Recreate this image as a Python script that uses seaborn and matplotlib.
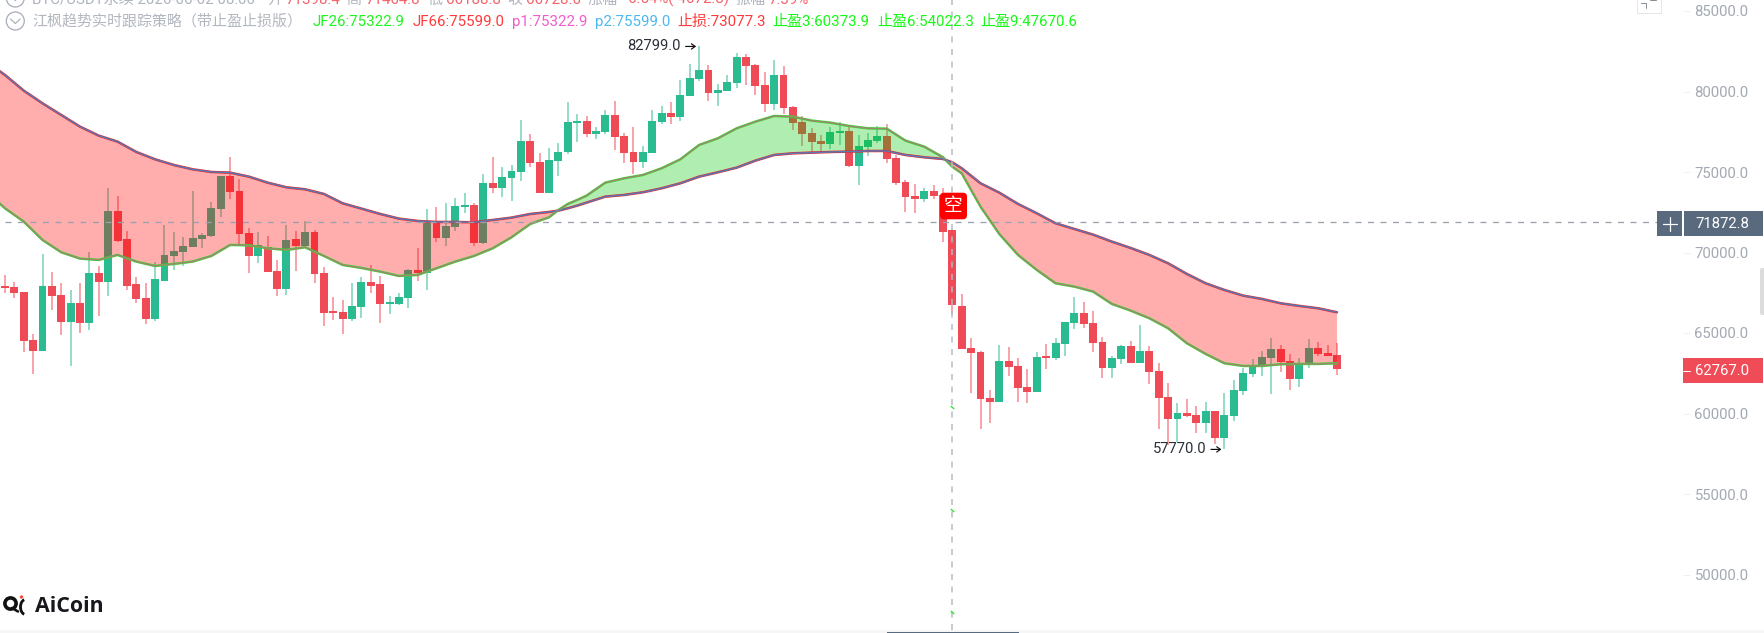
import matplotlib
matplotlib.use("Agg")
import matplotlib.pyplot as plt
import numpy as np
import pandas as pd
import seaborn as sns
from matplotlib.patches import Circle, FancyBboxPatch, Rectangle, Arc

# Daily candles, oldest first
opens = [67922, 67860, 67550, 64590, 63907, 67922, 67384, 65708, 66846, 65646, 68709, 68192, 72580,
         70821, 68026, 67156, 65852, 68254, 69806, 70055, 70365, 70841, 71048, 72704, 74753, 73822,
         71193, 69806, 70324, 68854, 67736, 70821, 70406, 71255, 68709, 66370, 66287, 65852, 66639,
         68150, 68026, 66805, 66784, 67198, 68916, 68750, 71814, 70924, 71607, 72849, 72973, 70613,
         74298, 74029, 74650, 75023, 76927, 75602, 73718, 75706, 76223, 78045, 78148, 77362, 77486,
         78562, 77237, 76223, 75623, 76182, 78107, 78645, 78417, 79742, 80756, 81357, 79928, 80053,
         80529, 82143, 81667, 80425, 79204, 81046, 79018, 78086, 77403, 76927, 76741, 77445, 77548,
         75395, 76575, 76927, 77237, 75850, 74381, 73491, 73304, 73801, 73574, 71398.4, 66680, 64052,
         63824, 60967, 60719, 63265, 62954, 61650, 61360, 63575, 63451, 64300, 65625, 66246, 65604,
         64445, 62851, 63368, 64196, 63161, 63886, 62644, 61029, 59642, 60036, 59932, 59435, 60160,
         58504, 59870, 61423, 62458, 62954, 63472, 63989, 63265, 62147, 63120, 64072, 63762, 63658]
closes = [67819, 67508, 64528, 63907, 67922, 67322, 65708, 66846, 65646, 68709, 68192, 72580, 70738,
          67943, 67115, 65852, 68336, 69848, 70096, 70406, 70883, 71110, 72745, 74753, 73781, 71152,
          69806, 70469, 68813, 67736, 70779, 70406, 71255, 68668, 66266, 66266, 65852, 66680, 68150,
          67943, 66805, 66908, 67219, 68916, 68709, 71855, 70924, 71648, 72890, 72973, 70613, 74319,
          74029, 74671, 75043, 76927, 75581, 73718, 75747, 76223, 78086, 78148, 77362, 77548, 78562,
          77196, 76182, 75623, 76223, 78148, 78645, 78438, 79804, 80819, 81357, 79928, 80115, 80591,
          82143, 81605, 80363, 79225, 81046, 78997, 78065, 77362, 76865, 76761, 77465, 77548, 75395,
          76616, 76989, 77237, 75788, 74319, 73470, 73325, 73822, 73532, 71297, 66728.6, 63989, 63762,
          60884, 60719, 63265, 62913, 61588, 61360, 63513, 63451, 64383, 65687, 66246, 65542, 64403,
          62851, 63430, 64196, 63161, 63886, 62603, 60988, 59642, 60036, 59870, 59435, 60160, 58504,
          59932, 61485, 62499, 63016, 63513, 63989, 63203, 62126, 63120, 64072, 63700, 63596, 62767]
highs = [68605, 68192, 67570, 64921, 69910, 68771, 68129, 67674, 68088, 70013, 69164, 73988, 73511,
         71338, 68461, 68088, 69434, 71710, 71255, 70945, 73822, 71193, 73160, 74774, 75913, 74567,
         71503, 71255, 71027, 69537, 71710, 71338, 71959, 71400, 69082, 67260, 67053, 68088, 68502,
         69206, 68543, 67302, 67467, 68957, 70261, 72683, 72807, 73056, 73366, 73718, 73056, 74857,
         75913, 75333, 75436, 78231, 77341, 76161, 76472, 76823, 79369, 78583, 78500, 77796, 78852,
         79390, 77403, 77817, 76616, 78831, 79121, 79369, 80715, 81709, 82799, 81646, 80467, 81005,
         82392, 82309, 81688, 81233, 81957, 81584, 79100, 78500, 77713, 77320, 77796, 78107, 77776,
         77299, 77445, 77838, 78003, 76058, 74505, 74257, 74029, 74174, 73988, 71464.8, 67426, 64672,
         63907, 61464, 64238, 64114, 63430, 62747, 63824, 64300, 64672, 65708, 67219, 66908, 66349,
         64735, 63575, 64279, 64486, 65521, 64176, 63120, 61878, 60677, 60884, 60450, 60698, 60160,
         61257, 62106, 62810, 63368, 63907, 64672, 64238, 63679, 63430, 64610, 64424, 64259, 64362]
lows = [67467, 67156, 63844, 62437, 63866, 66432, 64859, 62954, 64983, 65190, 66080, 67322, 70634,
        67674, 66846, 65542, 65770, 68254, 68916, 69185, 70324, 70261, 70986, 72228, 73304, 70469,
        68709, 69330, 68813, 67302, 67384, 68854, 70365, 68088, 65459, 65811, 64921, 65770, 65914,
        67508, 65646, 66184, 66722, 66536, 68233, 67674, 70634, 70406, 71359, 72435, 70427, 70510,
        73718, 73429, 73201, 74464, 75333, 73718, 73677, 74774, 76099, 76886, 77196, 77051, 77341,
        76389, 75581, 74878, 75230, 76182, 77962, 78003, 78148, 79742, 80632, 79411, 79100, 80053,
        80197, 80384, 79784, 78728, 78831, 78604, 77610, 76637, 76265, 76265, 76430, 76679, 75292,
        74174, 76016, 76823, 75581, 74195, 72518, 72476, 73139, 73325, 70634, 66188.8, 63989, 61298,
        59042, 59394, 60719, 62333, 60698, 60636, 61360, 62768, 63348, 63596, 65273, 65294, 63845,
        62189, 62230, 63099, 63161, 63161, 61836, 59042, 58049, 58235, 59767, 58814, 58814, 58131,
        57770, 59539, 61154, 62251, 62354, 61236, 62603, 61485, 61630, 62851, 63575, 63575, 62416]

# Trend averages, sampled at these candle positions
ma_index = [-1, 0, 2, 4, 6, 8, 10, 12, 14, 16, 18, 20, 22, 24, 26, 28, 30, 32, 34, 36, 38, 40, 42,
            44, 46, 48, 50, 52, 54, 56, 58, 59, 60, 61, 62, 64, 66, 68, 70, 72, 74, 76, 78, 80, 82,
            84, 86, 88, 90, 92, 94, 96, 98, 100, 101, 102, 104, 106, 108, 110, 112, 114, 116, 118,
            120, 122, 124, 126, 128, 130, 132, 134, 136, 138, 140, 142]
jf66 = [81440, 81025, 80053, 79266, 78541, 77817, 77258, 76885, 76244, 75788, 75436, 75167, 75002,
        74960, 74712, 74339, 74050, 73925, 73636, 73056, 72725, 72394, 72104, 71959, 71897, 71897,
        71876, 72021, 72166, 72394, 72518, 72601, 72746, 72911, 73098, 73470, 73574, 73739, 73988,
        74298, 74712, 74981, 75271, 75706, 76058, 76161, 76203, 76244, 76265, 76306, 76306, 76058,
        75913, 75809, 75599, 75230, 74298, 73718, 73015, 72435, 71814, 71462, 71110, 70676, 70282,
        69848, 69330, 68668, 68088, 67674, 67322, 67115, 66846, 66680, 66535, 66287]
jf26 = [73263, 72746, 71917, 70779, 70013, 69620, 69537, 69848, 69434, 69164, 69289, 69434, 69785,
        70469, 70448, 70262, 70158, 70324, 69785, 69227, 69040, 68813, 68543, 68605, 69019, 69434,
        69785, 70262, 70945, 71772, 72187, 72642, 73015, 73263, 73532, 74339, 74608, 74815, 75230,
        75788, 76679, 77093, 77713, 78128, 78479, 78438, 78190, 78065, 77858, 77713, 77693, 76948,
        76575, 75913, 75323, 74919, 72849, 71152, 69848, 68916, 68088, 67881, 67573, 66805, 66391,
        65915, 65294, 64362, 63700, 63120, 62954, 62954, 63058, 63079, 63079, 63120]

y_ticks = [50000, 55000, 60000, 65000, 70000, 75000, 80000, 85000]
cursor_index = 101
cursor_price = 71872.8
last_price = 62767.0
take_profit_levels = [60373.9, 54022.3, 47670.6]
peak = (74, 82799.0)
trough = (130, 57770.0)

header_row1 = [
    (32, "BTC/USDT永续 2026-06-02 08:00", "#aeb4bd"), (267, "开", "#aeb4bd"), (285, "71398.4", "#f4616b"),
    (346, "高", "#aeb4bd"), (365, "71464.8", "#f4616b"), (428, "低", "#aeb4bd"), (446, "66188.8", "#f4616b"),
    (507, "收", "#aeb4bd"), (526, "66728.6", "#f4616b"), (588, "涨幅", "#aeb4bd"),
    (625, "-6.54%(-4672.8)", "#f4616b"), (735, "振幅", "#aeb4bd"), (768, "7.39%", "#f4616b"),
]
header_row2 = [
    (32, "江枫趋势实时跟踪策略（带止盈止损版）", "#b2b7bf"), (313, "JF26:75322.9", "#1ff51f"),
    (413, "JF66:75599.0", "#ff3a3a"), (512, "p1:75322.9", "#f25ccc"), (594.6, "p2:75599.0", "#4db8ee"),
    (677, "止损:73077.3", "#ff3a3a"), (772.5, "止盈3:60373.9", "#14fa14"),
    (876.8, "止盈6:54022.3", "#14fa14"), (980.7, "止盈9:47670.6", "#14fa14"),
]

sns.set_theme(style="white")
plt.rcParams["font.family"] = ["Roboto", "Noto Sans CJK SC", "DejaVu Sans"]
plt.rcParams["lines.scale_dashes"] = False

UP = "#2bbb90"
DOWN = "#ef4b56"
PX = 0.72  # points per pixel at 100 dpi

fig = plt.figure(figsize=(17.65, 6.33), dpi=100, facecolor="white")
ax = fig.add_axes([0, 1 - 630 / 633, 1683 / 1765, 630 / 633], facecolor="white")

candles = pd.DataFrame({"i": np.arange(len(opens)), "open": opens, "high": highs, "low": lows, "close": closes})
candles["colour"] = np.where(candles["close"] >= candles["open"], UP, DOWN)
candles["base"] = candles[["open", "close"]].min(axis=1)
candles["body"] = (candles["open"] - candles["close"]).abs().clip(lower=40)

# Wicks and bodies sit under the translucent band
ax.vlines(candles["i"], candles["low"], candles["high"], colors=candles["colour"],
          linewidth=1.7 * PX, alpha=0.58, zorder=2)
ax.bar(candles["i"], candles["body"], bottom=candles["base"], width=7.9 / 9.38,
       color=candles["colour"], linewidth=0, zorder=3)

ma = pd.DataFrame({"i": ma_index, "jf26": jf26, "jf66": jf66})
ax.fill_between(ma["i"], ma["jf26"], ma["jf66"], where=ma["jf26"] >= ma["jf66"], interpolate=True,
                color=(0.0, 0.78, 0.0), alpha=0.31, linewidth=0, zorder=4)
ax.fill_between(ma["i"], ma["jf26"], ma["jf66"], where=ma["jf26"] <= ma["jf66"], interpolate=True,
                color=(1.0, 0.0, 0.0), alpha=0.32, linewidth=0, zorder=4)

sns.lineplot(data=ma, x="i", y="jf66", estimator=None, sort=False, color="#ff1a1a",
             linewidth=2.5 * PX, ax=ax, legend=False, zorder=5)
sns.lineplot(data=ma, x="i", y="jf66", estimator=None, sort=False, color="#2f8fd8",
             linewidth=1.6 * PX, alpha=0.8, ax=ax, legend=False, zorder=6)
sns.lineplot(data=ma, x="i", y="jf26", estimator=None, sort=False, color="#22ee22",
             linewidth=2.5 * PX, ax=ax, legend=False, zorder=5)
sns.lineplot(data=ma, x="i", y="jf26", estimator=None, sort=False, color="#e0509a",
             linewidth=1.6 * PX, alpha=0.65, ax=ax, legend=False, zorder=6)

ax.set_xlim(-5 / 9.38, (1683 - 5) / 9.38)
ax.set_ylim(85000 - 619 / 0.0161, 85000 + 11 / 0.0161)
ax.set_xlabel("")
ax.set_ylabel("")
ax.set_xticks([])
ax.yaxis.tick_right()
ax.set_yticks(y_ticks)
ax.set_yticklabels([f"{v:.1f}" for v in y_ticks])
ax.tick_params(axis="y", length=7 * PX, width=1 * PX, color="#eef0f2", pad=4.5 * PX,
               labelsize=10.7, labelcolor="#a3a9b3")
for side in ax.spines.values():
    side.set_visible(False)

# Crosshair and take-profit marks on it
dash = (0, (6 * PX, 6.5 * PX))
ax.axvline(cursor_index, color="#b4bac6", linewidth=1.5 * PX, linestyle=dash, zorder=8)
ax.axhline(cursor_price, xmin=5 / 1683, xmax=1657 / 1683, color="#9aa1ad", linewidth=1.3 * PX,
           linestyle=dash, zorder=8)
ax.plot([cursor_index] * 3, take_profit_levels, linestyle="none", marker=(2, 0, 50), markersize=3.2,
        markeredgecolor="#22ee22", markeredgewidth=1.0, zorder=9)

# Extreme-price callouts with a short arrow pointing at the wick
for (idx, price) in (peak, trough):
    ax.annotate(f"{price:.1f}", xy=(idx, price), xytext=(-18 * PX, 0.5), textcoords="offset points",
                ha="right", va="center", fontsize=10.6, color="#2a2f38", zorder=10)
    ax.annotate("", xy=(idx, price), xytext=(-13.5 * PX, 0), textcoords="offset points",
                arrowprops=dict(arrowstyle="->,head_length=0.22,head_width=0.16", color="#111111",
                                lw=1.2 * PX, shrinkA=0, shrinkB=3 * PX), zorder=10)

# Screen furniture drawn in pixel coordinates
ui = fig.add_axes([0, 0, 1, 1], facecolor="none")
ui.set_xlim(0, 1765)
ui.set_ylim(633, 0)
ui.axis("off")

ui.add_patch(Rectangle((0, 630), 1765, 3, fc="#f6f6f7", ec="none"))
ui.add_patch(Rectangle((887, 631.5), 132, 1.5, fc="#5a6a7e", ec="none"))

for x, label, colour in header_row1:
    ui.text(x, 4, label, color=colour, fontsize=10.8, va="baseline", ha="left")
for x, label, colour in header_row2:
    ui.text(x, 26, label, color=colour, fontsize=10.8, va="baseline", ha="left")

for cy in (-2, 21):
    ui.add_patch(Circle((15.3, cy), 9, fc="white", ec="#a9afba", lw=1.3 * PX))
    ui.plot([10.5, 15.3, 20.1], [cy - 2, cy + 2.5, cy - 2], color="#a9afba", lw=1.2 * PX)

# Signal badge
ui.add_patch(FancyBboxPatch((940, 192.7), 27, 26.6, boxstyle="round,pad=0,rounding_size=4",
                            fc="#fe0000", ec="none", zorder=6))
ui.text(953.5, 206, "空", color="white", fontsize=13.5, ha="center", va="center", zorder=7)

# Price boxes on the axis
slate = "#5a6a7e"
ui.add_patch(Rectangle((1657, 211), 25.5, 25, fc=slate, ec="none"))
ui.plot([1663, 1677], [223.5, 223.5], color="white", lw=1.2 * PX)
ui.plot([1670, 1670], [216.5, 230.5], color="white", lw=1.2 * PX)
ui.add_patch(Rectangle((1684, 211), 79, 25, fc=slate, ec="none"))
ui.text(1695, 223.7, f"{cursor_price:.1f}", color="white", fontsize=10.7, va="center", ha="left")
ui.add_patch(Rectangle((1683, 358), 80, 25, fc="#f04c58", ec="none"))
ui.plot([1683, 1690], [370.5, 370.5], color="white", lw=1 * PX)
ui.text(1695, 370.7, f"{last_price:.1f}", color="white", fontsize=10.7, va="center", ha="left")

# Scale handle and corner widget
ui.add_patch(FancyBboxPatch((1760, 268), 8, 47, boxstyle="round,pad=0,rounding_size=2", fc="#dcdcdc", ec="none"))
ui.add_patch(Rectangle((1637.5, -3), 23.5, 15.5, fc="white", ec="#e3e6ea", lw=1 * PX))
ui.plot([1641, 1646, 1646], [3, 3, 8], color="#8a909a", lw=1 * PX)
ui.plot([1650, 1656], [0, 0], color="#8a909a", lw=1 * PX)

# AiCoin mark
ui.add_patch(Circle((10.5, 603.5), 5.6, fc="none", ec="#111111", lw=3.6 * PX))
ui.plot([12, 18], [608, 611.5], color="#111111", lw=2.6 * PX)
ui.add_patch(Arc((25.5, 607), 10, 15, theta1=100, theta2=260, color="#111111", lw=2.8 * PX))
ui.add_patch(Circle((21.5, 597), 1.7, fc="#f0503c", ec="none"))
ui.text(35.5, 612.5, "AiCoin", color="#16181c", fontsize=15.4, fontweight="bold",
        family="Open Sans", va="baseline", ha="left")

fig.savefig("out.png", dpi=100, facecolor="white")
